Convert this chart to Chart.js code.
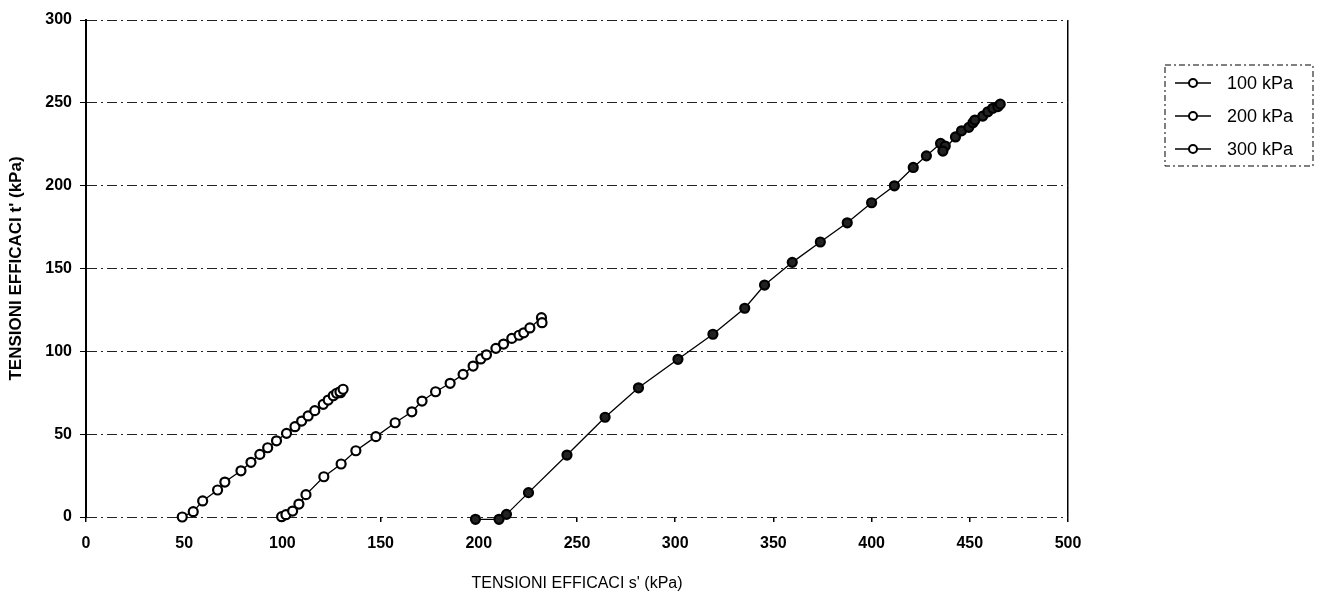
<!DOCTYPE html>
<html>
<head>
<meta charset="utf-8">
<script src="https://cdn.jsdelivr.net/npm/chart.js@4.4.1/dist/chart.umd.min.js"></script>
<style>
  html, body { margin: 0; padding: 0; background: #fff; }
  #wrap { width: 1320px; height: 597px; }
</style>
</head>
<body>
<div id="wrap"><canvas id="grafico" width="1320" height="597"></canvas></div>
<script>
// valori (s' e t' in kPa)
const s100 = [49, 54.6, 59.4, 67.0, 70.7, 78.9, 84.0, 88.5, 92.5, 97.0, 102.1, 106.4, 109.8, 113.1, 116.5, 120.8, 123.3, 125.9, 127.6, 129.6, 129.3, 130.9];
const t100 = [0, 3.2, 9.7, 16.3, 21.1, 27.9, 33.0, 37.8, 41.8, 46.0, 50.5, 54.5, 57.9, 61.0, 64.2, 68.0, 70.6, 73.2, 74.7, 75.0, 75.6, 77.1];

const s200 = [99.6, 101.8, 105.2, 108.4, 112.0, 121.1, 129.9, 137.4, 147.6, 157.4, 165.9, 171.1, 178.0, 185.4, 192.0, 197.1, 201.0, 203.9, 208.7, 212.6, 216.8, 220.5, 222.9, 226.0, 231.9, 232.2];
const t200 = [0.2, 1.4, 3.6, 7.8, 13.5, 24.3, 32.0, 40.0, 48.5, 56.9, 63.5, 70.0, 75.6, 80.7, 86.1, 91.1, 95.4, 97.9, 101.8, 104.4, 107.8, 109.7, 111.2, 114.1, 120.3, 117.3];

const s300 = [198.3, 210.3, 214.1, 225.3, 244.9, 264.3, 281.3, 301.4, 319.2, 335.4, 345.5, 359.6, 373.9, 387.6, 400.0, 411.6, 421.2, 427.9, 435.1, 437.5, 436.3, 442.7, 445.8, 449.5, 451.6, 452.6, 456.6, 459.2, 461.7, 464.3, 465.5];
const t300 = [-1.4, -1.4, 1.6, 14.7, 37.4, 60.2, 78.0, 95.2, 110.3, 126.0, 140.0, 153.7, 166.0, 177.6, 189.7, 199.9, 211.0, 218.0, 225.5, 223.9, 220.9, 229.4, 233.1, 235.2, 238.0, 239.6, 242.0, 244.6, 246.7, 247.7, 249.2];

const etichette = ['100 kPa', '200 kPa', '300 kPa'];
const xTicks = [0, 50, 100, 150, 200, 250, 300, 350, 400, 450, 500];
const yTicks = [0, 50, 100, 150, 200, 250, 300];

function punti(xs, ys) {
    return xs.map((x, i) => ({ x: x, y: ys[i] }));
}

function serie(label, data, fill) {
    return {
        label: label,
        data: data,
        showLine: true,
        clip: false,
        borderColor: '#000',
        borderWidth: 1.3,
        pointRadius: 4.5,
        pointBorderWidth: 2.2,
        pointBorderColor: '#000',
        pointBackgroundColor: fill,
        tension: 0
    };
}

// legenda disegnata a mano, come nel grafico originale
const legendaPlugin = {
    id: 'legendaBox',
    afterDraw(chart) {
        const ctx = chart.ctx;
        const x0 = 1165, y0 = 65, w = 148, h = 101;
        ctx.save();
        ctx.strokeStyle = '#000';
        ctx.lineWidth = 1;
        ctx.setLineDash([6, 3, 2, 3]);
        ctx.strokeRect(x0, y0, w, h);
        ctx.setLineDash([]);
        ctx.font = '18px "Liberation Sans", Arial, sans-serif';
        ctx.fillStyle = '#000';
        ctx.textBaseline = 'middle';
        chart.data.datasets.forEach((ds, i) => {
            const yy = y0 + 18 + i * 33;
            ctx.beginPath();
            ctx.moveTo(x0 + 10, yy);
            ctx.lineTo(x0 + 46, yy);
            ctx.lineWidth = 1.3;
            ctx.stroke();
            ctx.beginPath();
            ctx.arc(x0 + 28, yy, 4, 0, Math.PI * 2);
            ctx.fillStyle = '#fff';
            ctx.fill();
            ctx.lineWidth = 2;
            ctx.stroke();
            ctx.fillStyle = '#000';
            ctx.fillText(ds.label, x0 + 62, yy + 1);
        });
        ctx.restore();
    }
};

new Chart(document.getElementById('grafico'), {
    type: 'scatter',
    data: {
        datasets: [
            serie(etichette[0], punti(s100, t100), '#fff'),
            serie(etichette[1], punti(s200, t200), '#fff'),
            serie(etichette[2], punti(s300, t300), '#222')
        ]
    },
    options: {
        responsive: false,
        animation: false,
        layout: { padding: { top: 20, right: 252, bottom: 0, left: 0 } },
        plugins: { legend: { display: false }, tooltip: { enabled: false } },
        scales: {
            x: {
                type: 'linear',
                min: 0, max: 500,
                afterBuildTicks: s => { s.ticks = xTicks.map(v => ({ value: v })); },
                afterFit: s => { s.height = 80; },
                grid: {
                    color: c => (c.tick && c.tick.value === 500) ? '#000' : 'rgba(0,0,0,0)',
                    lineWidth: 1.5,
                    tickColor: '#000',
                    tickLength: 5
                },
                border: { display: false },
                ticks: {
                    color: '#000',
                    padding: 12,
                    font: { family: '"Liberation Sans", Arial, sans-serif', size: 16, weight: 'bold' }
                },
                title: {
                    display: true,
                    text: "TENSIONI EFFICACI s' (kPa)",
                    color: '#000',
                    padding: { top: 6 },
                    font: { family: '"Liberation Sans", Arial, sans-serif', size: 16 }
                }
            },
            y: {
                type: 'linear',
                min: 0, max: 300,
                afterBuildTicks: s => { s.ticks = yTicks.map(v => ({ value: v })); },
                afterFit: s => { s.width = 86; },
                grid: {
                    color: '#222',
                    lineWidth: 1,
                    tickColor: '#000',
                    tickLength: 6
                },
                border: { display: true, color: '#000', width: 2, dash: [10, 4, 2, 4] },
                ticks: {
                    color: '#000',
                    padding: 8,
                    font: { family: '"Liberation Sans", Arial, sans-serif', size: 16, weight: 'bold' }
                },
                title: {
                    display: true,
                    text: "TENSIONI EFFICACI t' (kPa)",
                    color: '#000',
                    padding: { top: 6, bottom: 2 },
                    font: { family: '"Liberation Sans", Arial, sans-serif', size: 17, weight: 'bold' }
                }
            }
        }
    },
    plugins: [legendaPlugin]
});
</script>
</body>
</html>
